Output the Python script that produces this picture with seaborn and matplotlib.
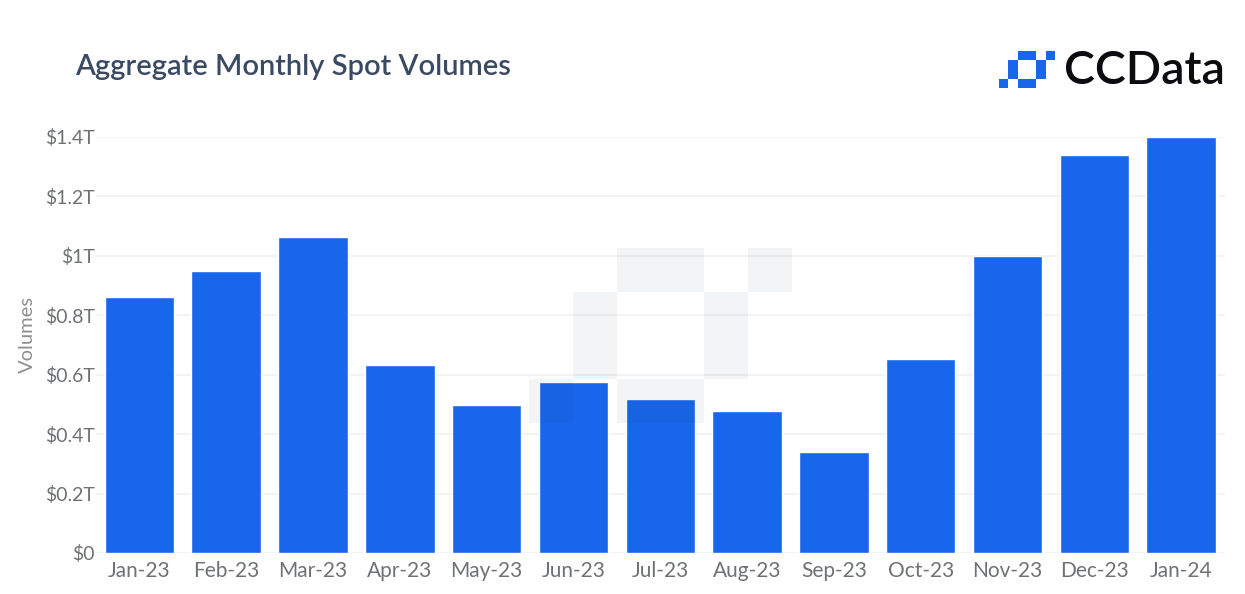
import matplotlib
matplotlib.use("Agg")
import matplotlib.pyplot as plt
import pandas as pd
import seaborn as sns
from matplotlib.patches import Rectangle

months = ["Jan-23", "Feb-23", "Mar-23", "Apr-23", "May-23", "Jun-23", "Jul-23",
          "Aug-23", "Sep-23", "Oct-23", "Nov-23", "Dec-23", "Jan-24"]
volumes = [0.861, 0.949, 1.063, 0.633, 0.498, 0.575, 0.518, 0.478, 0.34, 0.653, 0.999, 1.339, 1.4]
y_ticks = [0, 0.2, 0.4, 0.6, 0.8, 1.0, 1.2, 1.4]
y_tick_labels = ["$0", "$0.2T", "$0.4T", "$0.6T", "$0.8T", "$1T", "$1.2T", "$1.4T"]

W, H = 1245, 594
BLUE = "#1866ec"
FONT = "Lato"

# logo blocks as (col, row, width, height) on a 6x4 grid
LOGO_BLOCKS = [(2, 0, 2, 1), (5, 0, 1, 1), (1, 1, 1, 2), (4, 1, 1, 2), (2, 3, 2, 1), (0, 3, 1, 1)]


def draw_logo(ax, x0, y0, unit, color, alpha=1.0):
    for col, row, w, h in LOGO_BLOCKS:
        ax.add_patch(Rectangle((x0 + col * unit, y0 + row * unit), w * unit, h * unit,
                               facecolor=color, edgecolor="none", alpha=alpha))


sns.set_theme(style="white")
plt.rcParams["font.family"] = [FONT, "DejaVu Sans"]

fig = plt.figure(figsize=(W / 100, H / 100), dpi=100, facecolor="white")
ax = fig.add_axes([96 / W, 1 - 553 / H, (1224.5 - 96) / W, (553 - 137) / H])

df = pd.DataFrame({"month": months, "volume": volumes})
sns.barplot(data=df, x="month", y="volume", color=BLUE, saturation=1, width=0.8, ax=ax, zorder=3)

ax.set_xlim(-0.5, len(months) - 0.5)
ax.set_ylim(0, 1.4)
ax.set_yticks(y_ticks)
ax.set_yticklabels(y_tick_labels)
ax.grid(axis="y", color="#eef0f2", linewidth=1.1, zorder=0)
ax.set_axisbelow(True)
sns.despine(ax=ax, left=True, bottom=True)
ax.tick_params(axis="both", length=0, labelcolor="#6f7275")
ax.tick_params(axis="y", pad=1, labelsize=14)
ax.tick_params(axis="x", pad=6, labelsize=15)
ax.set_xlabel("")
ax.set_ylabel("Volumes", fontsize=14.5, color="#8b8e92")
ax.yaxis.set_label_coords(-0.053, 0.526)

# pixel-space overlay for the watermark, logo and heading
overlay = fig.add_axes([0, 0, 1, 1], facecolor="none")
overlay.set_xlim(0, W)
overlay.set_ylim(H, 0)
overlay.axis("off")

draw_logo(overlay, 529, 248, 43.8, "#20384a", alpha=0.05)
draw_logo(overlay, 999, 51, 9.33, BLUE)

overlay.text(75, 67, "Aggregate Monthly Spot Volumes", fontsize=21, color="#3b4a63",
             fontweight="semibold", va="center", ha="left")
overlay.text(1064, 71, "CCData", fontsize=33.5, color="#0c0c10",
             fontweight="semibold", va="center", ha="left")

fig.savefig("out.png", dpi=100)
